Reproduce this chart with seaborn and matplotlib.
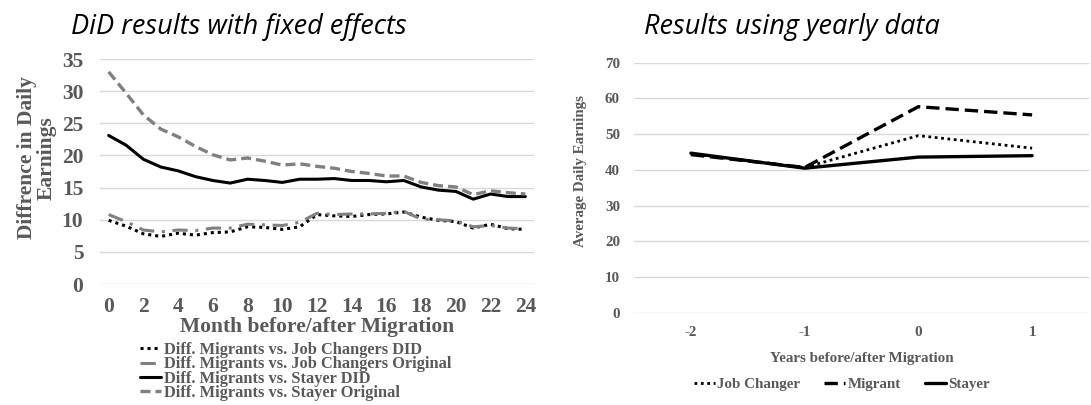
import matplotlib
matplotlib.use("Agg")
import matplotlib.pyplot as plt
import seaborn as sns
import pandas as pd
import numpy as np

# ---------------- data ----------------
months = list(range(0, 25))
jc_did = [9.9, 9.0, 7.8, 7.4, 7.9, 7.6, 8.0, 8.1, 8.9, 8.8, 8.5, 8.9, 10.8, 10.6, 10.5,
          10.8, 10.9, 11.2, 10.4, 9.9, 9.7, 8.7, 9.3, 8.6, 8.5]
jc_orig = [10.8, 9.7, 8.4, 8.1, 8.4, 8.3, 8.7, 8.7, 9.3, 9.2, 9.1, 9.6, 11.0, 10.8, 10.9,
           10.9, 11.0, 11.3, 10.1, 10.0, 9.8, 8.9, 9.1, 8.7, 8.6]
st_did = [23.1, 21.6, 19.4, 18.2, 17.6, 16.7, 16.1, 15.7, 16.3, 16.1, 15.8, 16.3, 16.3, 16.4,
          16.1, 16.1, 15.9, 16.1, 15.1, 14.6, 14.4, 13.2, 14.0, 13.6, 13.6]
st_orig = [33.0, 29.7, 26.3, 24.1, 22.9, 21.4, 20.1, 19.3, 19.6, 19.1, 18.5, 18.7, 18.3, 18.0,
           17.5, 17.2, 16.8, 16.8, 15.8, 15.3, 15.1, 13.9, 14.5, 14.2, 14.0]
left_labels = ["Diff. Migrants vs. Job Changers DID",
               "Diff. Migrants vs. Job Changers Original",
               "Diff. Migrants vs. Stayer DID",
               "Diff. Migrants vs. Stayer Original"]

years = [-2, -1, 0, 1]
job_changer = [44.5, 40.7, 49.6, 46.1]
migrant = [44.3, 40.7, 57.7, 55.4]
stayer = [44.7, 40.5, 43.6, 44.0]
right_labels = ["Job Changer", "Migrant", "Stayer"]

# ---------------- style ----------------
sns.set_theme(style="white")
plt.rcParams['font.family'] = ['Liberation Serif', 'DejaVu Serif']
plt.rcParams['font.weight'] = 'bold'
plt.rcParams['axes.unicode_minus'] = False
GRAY = "#595959"
GRID = "#d9d9d9"
TITLE_FONT = ['Open Sans', 'DejaVu Sans']

fig = plt.figure(figsize=(10.91, 4.05), dpi=100)
axL = fig.add_axes([100 / 1091, 1 - 284 / 405, 434 / 1091, 225 / 405])
axR = fig.add_axes([634 / 1091, 1 - 313 / 405, 455 / 1091, 250.3 / 405])

# ---------------- left chart ----------------
dfL = pd.DataFrame({"month": months, "jc_did": jc_did, "jc_orig": jc_orig,
                    "st_did": st_did, "st_orig": st_orig})
specs = [("jc_did", "black", (0, (1, 1.3)), 2.2),
         ("jc_orig", "#808080", (0, (5, 2.5, 1, 2.5)), 2.2),
         ("st_did", "black", "-", 2.2),
         ("st_orig", "#808080", (0, (3, 1.5)), 2.4)]
for (col, c, ls, lw), lab in zip(specs, left_labels):
    sns.lineplot(data=dfL, x="month", y=col, ax=axL, color=c, linestyle=ls,
                 linewidth=lw, label=lab)

axL.set_xlim(-0.5, 24.5)
axL.set_ylim(0, 35)
axL.set_xticks(range(0, 25, 2))
axL.set_yticks(range(0, 36, 5))
axL.grid(axis='y', color=GRID, linewidth=1)
axL.grid(axis='x', visible=False)
for s in axL.spines.values():
    s.set_visible(False)
axL.tick_params(axis='x', length=0, pad=9.5, labelsize=15.5, labelcolor=GRAY)
axL.tick_params(axis='y', length=0, pad=12, labelsize=15.5, labelcolor=GRAY)
axL.set_xlabel("Month before/after Migration", fontsize=15.5, color=GRAY,
               fontweight='bold', labelpad=0)
axL.set_ylabel("Diffrence in Daily\nEarnings", fontsize=15.5, color=GRAY,
               fontweight='bold', linespacing=1.0)
axL.yaxis.set_label_coords(-0.100, 0.56)
axL.legend(loc='upper left', bbox_to_anchor=(140 / 1091, 1 - 342 / 405),
           bbox_transform=fig.transFigure, frameon=False, fontsize=11.8,
           labelcolor=GRAY, handlelength=1.3, handletextpad=0.15,
           labelspacing=-0.1, borderpad=0, borderaxespad=0)

fig.text(239 / 1091, 1 - 27 / 405, "DiD results with fixed effects",
         family=TITLE_FONT, style='italic', fontweight='normal', fontsize=19.5,
         ha='center', va='center', color='black')

# ---------------- right chart ----------------
dfR = pd.DataFrame({"year": years, "Job Changer": job_changer,
                    "Migrant": migrant, "Stayer": stayer})
specsR = [("Job Changer", (0, (1, 1.3)), 2.0),
          ("Migrant", (0, (4, 1.8)), 2.4),
          ("Stayer", "-", 2.4)]
for col, ls, lw in specsR:
    sns.lineplot(data=dfR, x="year", y=col, ax=axR, color="black", linestyle=ls,
                 linewidth=lw, label=col)

axR.set_xlim(-2.5, 1.5)
axR.set_ylim(0, 70)
axR.set_xticks(years)
axR.set_yticks(range(0, 71, 10))
axR.grid(axis='y', color=GRID, linewidth=1)
axR.grid(axis='x', visible=False)
for s in axR.spines.values():
    s.set_visible(False)
axR.tick_params(axis='x', length=0, pad=9.5, labelsize=10.8, labelcolor=GRAY)
axR.tick_params(axis='y', length=0, pad=10, labelsize=10.8, labelcolor=GRAY)
axR.set_xlabel("Years before/after Migration", fontsize=10.8, color=GRAY,
               fontweight='bold', labelpad=9.5)
axR.set_ylabel("Average Daily Earnings", fontsize=10.8, color=GRAY, fontweight='bold')
axR.yaxis.set_label_coords(-0.103, 0.567)
axR.legend(loc='center', bbox_to_anchor=(842 / 1091, 1 - 384 / 405),
           bbox_transform=fig.transFigure, ncol=3, frameon=False, fontsize=10.8,
           labelcolor=GRAY, handlelength=1.4, handletextpad=0.15,
           columnspacing=1.6, borderpad=0, borderaxespad=0)

fig.text(792 / 1091, 1 - 27 / 405, "Results using yearly data",
         family=TITLE_FONT, style='italic', fontweight='normal', fontsize=19.5,
         ha='center', va='center', color='black')

fig.savefig("out.png", dpi=100)
